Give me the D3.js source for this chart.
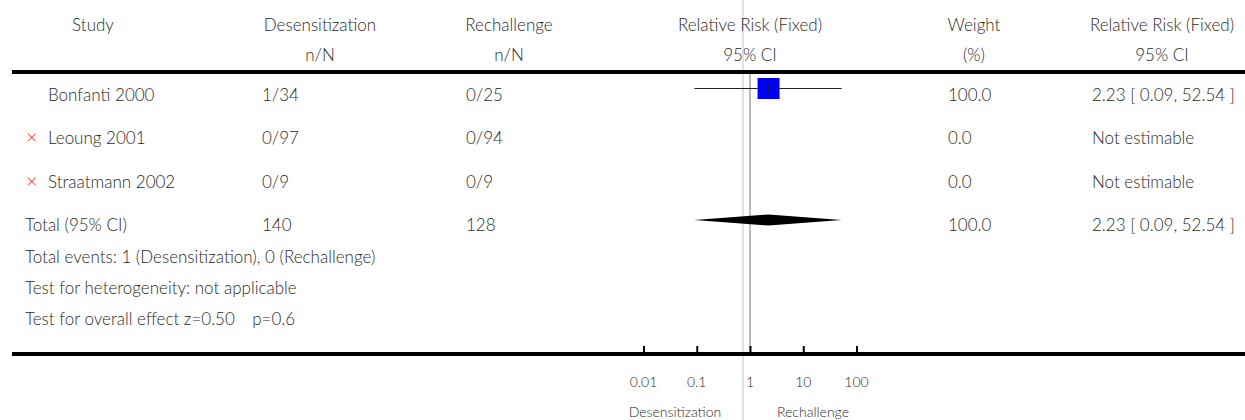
<!DOCTYPE html>
<html><head><meta charset="utf-8">
<script src="https://cdn.jsdelivr.net/npm/d3@7"></script>
<style>
html,body{margin:0;padding:0;background:#fff;}
svg text{font-family:"Lato","Open Sans",sans-serif;font-weight:300;font-size:17px;fill:#2a2a2a;}
</style></head>
<body><svg id="c" width="1245" height="420"></svg>
<script>
const studies = ["Bonfanti 2000","Leoung 2001","Straatmann 2002"];
const excluded = [false,true,true];
const desens = ["1/34","0/97","0/9"];
const rechal = ["0/25","0/94","0/9"];
const weights = ["100.0","0.0","0.0"];
const rrText = ["2.23 [ 0.09, 52.54 ]","Not estimable","Not estimable"];
const rrEst = [2.23,null,null];
const rrLo = [0.09,null,null];
const rrHi = [52.54,null,null];
const total = {label:"Total (95% CI)",desens:"140",rechal:"128",weight:"100.0",text:"2.23 [ 0.09, 52.54 ]",est:2.23,lo:0.09,hi:52.54};
const footnotes = ["Total events: 1 (Desensitization), 0 (Rechallenge)","Test for heterogeneity: not applicable","Test for overall effect z=0.50\u2003 p=0.6"];
const tickValues = [0.01,0.1,1,10,100];
const tickLabels = ["0.01","0.1","1","10","100"];
const headers1 = ["Study","Desensitization","Rechallenge","Relative Risk (Fixed)","Weight","Relative Risk (Fixed)"];
const headers2 = ["","n/N","n/N","95% CI","(%)","95% CI"];
const axisLabels = ["Desensitization","Rechallenge"];

const svg = d3.select("#c");
const x = d3.scaleLog().domain([0.01,100]).range([643.5,856.5]);
const headX = [93,320,509,750,974,1162];
const rowY = d3.scalePoint().domain(d3.range(4)).range([95,225]);

svg.append("line").attr("x1",743).attr("x2",743).attr("y1",0).attr("y2",420).attr("stroke","#e0e0e0").attr("stroke-width",2);

headers1.forEach((h,i)=>svg.append("text").attr("x",headX[i]).attr("y",31).attr("text-anchor","middle").text(h));
headers2.forEach((h,i)=>svg.append("text").attr("x",headX[i]).attr("y",61).attr("text-anchor","middle").text(h));

svg.append("line").attr("x1",12).attr("x2",1245).attr("y1",72).attr("y2",72).attr("stroke","#000").attr("stroke-width",4);

svg.append("line").attr("x1",x(1)).attr("x2",x(1)).attr("y1",74).attr("y2",354).attr("stroke","#777").attr("stroke-width",1);

const colX = {name:48,d:262,r:466,w:948,t:1092};
studies.forEach((s,i)=>{
  const y = rowY(i)+6;
  if(excluded[i]) svg.append("text").attr("x",26).attr("y",y).style("fill","#f03c3c").style("font-size","20px").text("\u00d7");
  svg.append("text").attr("x",colX.name).attr("y",y).text(s);
  svg.append("text").attr("x",colX.d).attr("y",y).text(desens[i]);
  svg.append("text").attr("x",colX.r).attr("y",y).text(rechal[i]);
  svg.append("text").attr("x",colX.w).attr("y",y).text(weights[i]);
  svg.append("text").attr("x",colX.t).attr("y",y).text(rrText[i]);
  if(rrEst[i]!=null){
    const cy = rowY(i)-6.5;
    svg.append("line").attr("x1",x(rrLo[i])).attr("x2",x(rrHi[i])).attr("y1",cy).attr("y2",cy).attr("stroke","#222").attr("stroke-width",1.2);
    svg.append("rect").attr("x",x(rrEst[i])-11).attr("y",cy-10.5).attr("width",22).attr("height",21).attr("fill","#0000f0");
    svg.append("line").attr("x1",x(rrEst[i])).attr("x2",x(rrEst[i])).attr("y1",cy-3).attr("y2",cy+3).attr("stroke","#222");
  }
});
{
  const y = rowY(3);
  svg.append("text").attr("x",25).attr("y",y+6).text(total.label);
  svg.append("text").attr("x",colX.d).attr("y",y+6).text(total.desens);
  svg.append("text").attr("x",colX.r).attr("y",y+6).text(total.rechal);
  svg.append("text").attr("x",colX.w).attr("y",y+6).text(total.weight);
  svg.append("text").attr("x",colX.t).attr("y",y+6).text(total.text);
  const cy = y-5, h=5.5;
  svg.append("path").attr("d",`M${x(total.lo)},${cy}L${x(total.est)},${cy-h}L${x(total.hi)},${cy}L${x(total.est)},${cy+h}Z`).attr("fill","#000");
}
footnotes.forEach((f,i)=>svg.append("text").attr("x",25).attr("y",263+i*31).text(f));

svg.append("line").attr("x1",12).attr("x2",1245).attr("y1",354).attr("y2",354).attr("stroke","#000").attr("stroke-width",4);
const ax = svg.append("g").attr("transform","translate(0,352)")
  .call(d3.axisTop(x).tickValues(tickValues).tickSize(6).tickFormat(""));
ax.select(".domain").remove();
ax.selectAll(".tick line").attr("stroke","#000").attr("stroke-width",2);
tickValues.forEach((v,i)=>svg.append("text").attr("x",x(v)).attr("y",387).attr("text-anchor","middle").style("font-size","14px").text(tickLabels[i]));
svg.append("text").attr("x",675).attr("y",417).attr("text-anchor","middle").style("font-size","14px").text(axisLabels[0]);
svg.append("text").attr("x",813).attr("y",417).attr("text-anchor","middle").style("font-size","14px").text(axisLabels[1]);
</script></body></html>
